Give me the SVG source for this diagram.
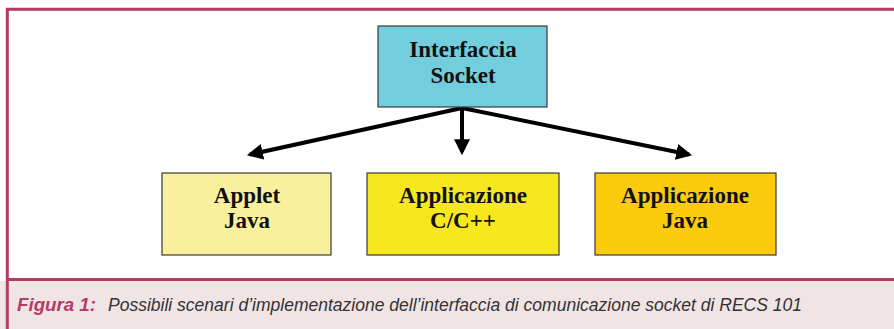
<svg xmlns="http://www.w3.org/2000/svg" width="894" height="329" viewBox="0 0 894 329">
<defs>
<style>
.box{stroke:#3a3a3a;stroke-width:1.2}
.lbl{font-family:"Liberation Serif","Times New Roman",serif;font-weight:bold;font-size:23px;fill:#111;text-anchor:middle}
.conn{stroke:#000;stroke-width:4;fill:none}
.cap{font-family:"Liberation Sans","Open Sans",sans-serif;font-style:italic;font-size:19px}
</style>
<marker id="ah" markerWidth="4" markerHeight="4" refX="3.2" refY="2" orient="auto" markerUnits="strokeWidth">
<path d="M0,0 L4,2 L0,4 Z" fill="#000"/>
</marker>
</defs>
<rect x="0" y="0" width="894" height="329" fill="#fff"/>
<rect x="0" y="281" width="894" height="48" fill="#f1e4e5"/>
<path d="M894,9.3 H7.3 V329" fill="none" stroke="#b23d67" stroke-width="3"/>
<line x1="7" y1="279.5" x2="894" y2="279.5" stroke="#b23d67" stroke-width="3"/>
<g id="connectors">
<line class="conn" x1="462" y1="108" x2="250" y2="154.5" marker-end="url(#ah)"/>
<line class="conn" x1="462" y1="108" x2="462" y2="152" marker-end="url(#ah)"/>
<line class="conn" x1="462" y1="108" x2="689" y2="154.5" marker-end="url(#ah)"/>
</g>
<g id="interfaccia">
<rect class="box" x="378" y="26" width="169" height="81" fill="#72cedd"/>
<text class="lbl" x="463" y="57">Interfaccia</text>
<text class="lbl" x="463" y="83">Socket</text>
</g>
<g id="applet">
<rect class="box" x="162" y="173" width="169" height="82" fill="#f8f09c"/>
<text class="lbl" x="247" y="203">Applet</text>
<text class="lbl" x="247" y="228">Java</text>
</g>
<g id="appcpp">
<rect class="box" x="367" y="173" width="192" height="82" fill="#f6e81c"/>
<text class="lbl" x="463" y="203">Applicazione</text>
<text class="lbl" x="463" y="228">C/C++</text>
</g>
<g id="appjava">
<rect class="box" x="595" y="173" width="181" height="82" fill="#fccb0b"/>
<text class="lbl" x="685" y="203">Applicazione</text>
<text class="lbl" x="685" y="228">Java</text>
</g>
<text class="cap" x="17" y="311" font-weight="bold" fill="#b23d67" font-size="20" textLength="79" lengthAdjust="spacingAndGlyphs">Figura 1:</text>
<text class="cap" x="108" y="311" fill="#333" textLength="694" lengthAdjust="spacingAndGlyphs">Possibili scenari d’implementazione dell’interfaccia di comunicazione socket di RECS 101</text>
</svg>
